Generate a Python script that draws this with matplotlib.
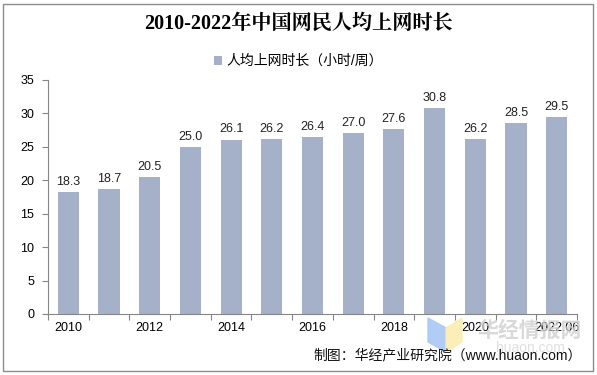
import matplotlib
matplotlib.use("Agg")
import matplotlib.pyplot as plt
from matplotlib.patches import Rectangle, Polygon

plt.rcParams['font.family'] = ['Liberation Sans', 'Noto Sans CJK SC']

YEARS  = ['2010', '2011', '2012', '2013', '2014', '2015', '2016',
          '2017', '2018', '2019', '2020', '2021', '2022.06']
HOURS  = [18.3, 18.7, 20.5, 25.0, 26.1, 26.2, 26.4, 27.0, 27.6, 30.8, 26.2, 28.5, 29.5]
TITLE  = "2010-2022年中国网民人均上网时长"
LEGEND = "人均上网时长（小时/周）"
SOURCE = "制图：华经产业研究院（www.huaon.com）"
BAR_C  = '#a5b0c9'
AX_C   = '#868686'

fig = plt.figure(figsize=(5.97, 3.75), dpi=100)
ax = fig.add_axes([48/597, 1-314/375, 529/597, 234/375])

x = range(len(YEARS))
ax.bar(x, HOURS, width=0.52, color=BAR_C, label=LEGEND, zorder=2)
for i, v in zip(x, HOURS):
    ax.text(i, v + 0.6, f"{v:.1f}", ha='center', va='bottom', fontsize=9, color='#222222')

ax.set_xlim(-0.5, len(YEARS) - 0.5)
ax.set_ylim(0, 35)
ax.set_yticks(range(0, 36, 5))
# tick marks sit between categories, labels on every other category
ax.set_xticks([i - 0.5 for i in range(len(YEARS) + 1)], minor=False)
ax.set_xticklabels([])
ax.set_xticks(list(x), minor=True)
ax.set_xticklabels([y if i % 2 == 0 else '' for i, y in enumerate(YEARS)], minor=True, fontsize=9)
ax.tick_params(axis='x', which='major', length=4, color=AX_C, direction='out')
ax.tick_params(axis='x', which='minor', length=0, pad=6)
ax.tick_params(axis='y', length=4, color=AX_C, labelsize=9, pad=6)
for s in ['top', 'right']:
    ax.spines[s].set_visible(False)
for s in ['left', 'bottom']:
    ax.spines[s].set_color(AX_C)

fig.text(0.5, 1-24/375, TITLE, ha='center', va='center', fontsize=14.5, fontweight='bold',
         family=['Liberation Serif', 'Noto Serif CJK SC', 'Noto Sans CJK SC'])
fig.legend(loc='center', bbox_to_anchor=(0.5, 1-61/375), frameon=False, fontsize=10,
           handlelength=0.6, handleheight=0.6, handletextpad=0.3)

# watermark (overlaps the last tick labels, as in the reference)
fig.patches.append(Polygon([[428/597, 1-318/375], [446/597, 1-328/375], [446/597, 1-352/375], [428/597, 1-342/375]],
                           closed=True, transform=fig.transFigure, color='#a9c8f5', alpha=0.9))
fig.patches.append(Polygon([[446/597, 1-328/375], [462/597, 1-318/375], [462/597, 1-342/375], [446/597, 1-352/375]],
                           closed=True, transform=fig.transFigure, color='#fbeeb0', alpha=0.9))
fig.text(530/597, 1-331/375, "华经情报网", ha='center', va='center', fontsize=15, fontweight='bold',
         color='#d0d0d0', alpha=0.8)
fig.text(530/597, 1-348/375, "huaon.com", ha='center', va='center', fontsize=10, color='#e0e0e0')

fig.text(582/597, 1-355/375, SOURCE, ha='right', va='center', fontsize=10, color='#111111')

fig.patches.append(Rectangle((3/597, 4/375), 590/597, 367/375, transform=fig.transFigure,
                             fill=False, edgecolor='#8c8c8c', linewidth=1))

fig.savefig("out.png", dpi=100)
